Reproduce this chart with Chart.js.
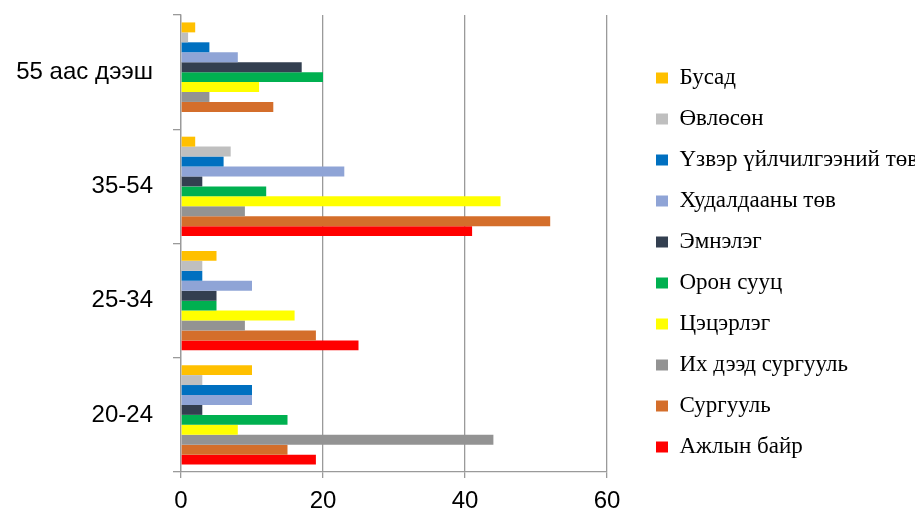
<!DOCTYPE html>
<html>
<head>
<meta charset="utf-8">
<script src="https://cdn.jsdelivr.net/npm/chart.js@4.4.1/dist/chart.umd.min.js"></script>
<style>
  html, body { margin:0; padding:0; background:#fff; overflow:hidden; width:915px; height:510px; }
  #chart { display:block; }
</style>
</head>
<body>
<canvas id="chart" width="920" height="510"></canvas>
<script>
// age groups, listed top to bottom as drawn
const ageGroups = ['55 аас дээш', '35-54', '25-34', '20-24'];

// series, listed top to bottom inside each group (same as legend order)
const seriesNames = ['Бусад', 'Өвлөсөн', 'Үзвэр үйлчилгээний төв', 'Худалдааны төв', 'Эмнэлэг',
  'Орон сууц', 'Цэцэрлэг', 'Их дээд сургууль', 'Сургууль', 'Ажлын байр'];

const busad      = [2, 2, 5, 10];
const uvlusun    = [1, 7, 3, 3];
const uzver      = [4, 6, 3, 10];
const hudaldaa   = [8, 23, 10, 10];
const emneleg    = [17, 3, 5, 3];
const oronSuuts  = [20, 12, 5, 15];
const tsetserleg = [11, 45, 16, 8];
const ihDeed     = [4, 9, 9, 44];
const surguuli   = [13, 52, 19, 15];
const ajilByr    = [0, 41, 25, 19];

const xTicks = [0, 20, 40, 60];

const seriesData = [busad, uvlusun, uzver, hudaldaa, emneleg, oronSuuts, tsetserleg, ihDeed, surguuli, ajilByr];
const seriesColors = ['#FFC000', '#BFBFBF', '#0070C0', '#8FA4D6', '#333F50',
  '#00B050', '#FFFF00', '#939393', '#D46E2B', '#FF0000'];

const datasets = seriesNames.map((name, i) => ({
  label: name,
  data: seriesData[i],
  backgroundColor: seriesColors[i],
  borderWidth: 0,
  categoryPercentage: 0.87,
  barPercentage: 1.0
}));

const gridGray = '#9a9a9a';

new Chart(document.getElementById('chart'), {
  type: 'bar',
  data: { labels: ageGroups, datasets },
  options: {
    responsive: false,
    animation: false,
    indexAxis: 'y',
    layout: { padding: { top: 15, left: 0, right: 0, bottom: 0 } },
    plugins: {
      tooltip: { enabled: false },
      legend: {
        position: 'right',
        maxWidth: 282,   // legend runs past the page edge, like the original
        labels: {
          boxWidth: 12,
          boxHeight: 11,
          padding: 18,
          color: '#000',
          font: { family: '"Liberation Serif", "Times New Roman", serif', size: 23 }
        }
      }
    },
    scales: {
      x: {
        min: 0, max: 60,
        afterBuildTicks: s => { s.ticks = xTicks.map(v => ({ value: v })); },
        grid: { color: gridGray, lineWidth: 1.3, tickLength: 6, tickColor: gridGray },
        border: { display: true, color: gridGray, width: 1.3 },
        ticks: {
          padding: 9, color: '#000',
          font: { family: '"Liberation Sans", Arial, sans-serif', size: 24 }
        },
        afterFit: s => { s.height = 38; }
      },
      y: {
        grid: { offset: true, drawOnChartArea: false, tickLength: 8, color: gridGray, lineWidth: 1.3 },
        border: { display: true, color: gridGray, width: 1.3 },
        ticks: {
          padding: 20, color: '#000',
          font: { family: '"Liberation Sans", Arial, sans-serif', size: 24 }
        },
        afterFit: s => { s.width = 181; s.paddingTop = 0; s.paddingBottom = 0; }
      },
      gap: {
        type: 'linear',
        position: 'right',
        display: true,
        grid: { display: false },
        border: { display: false },
        ticks: { display: false },
        afterFit: s => { s.width = 31; }
      }
    }
  }
});
</script>
</body>
</html>
